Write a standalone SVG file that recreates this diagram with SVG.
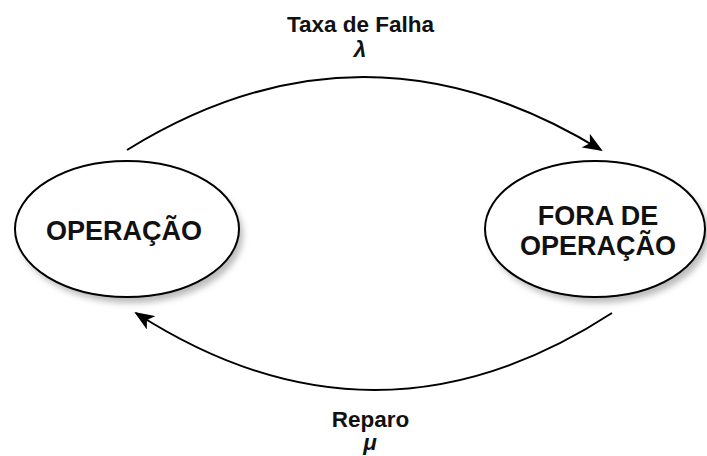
<svg xmlns="http://www.w3.org/2000/svg" width="707" height="456" viewBox="0 0 707 456">
<style>
.node{fill:#fff;stroke:#000;stroke-width:2}
.shadow{fill:#bbb;filter:url(#blur)}
.lbl{font-family:"Liberation Sans",Arial,sans-serif;font-weight:bold;text-anchor:middle;fill:#111}
.big{font-size:27px}
.small{font-size:22.5px}
.conn{fill:none;stroke:#000;stroke-width:2}
</style>
<defs>
<filter id="blur" x="-20%" y="-20%" width="140%" height="140%"><feGaussianBlur stdDeviation="3"/></filter>
<marker id="arrow" markerWidth="20" markerHeight="16" refX="18" refY="8" orient="auto" markerUnits="userSpaceOnUse">
<path d="M0,0 L20,8 L0,16 L5,8 Z" fill="#000"/>
</marker>
</defs>
<g id="node-operacao">
<ellipse class="shadow" cx="131" cy="235" rx="112" ry="68"/>
<ellipse class="node" cx="127" cy="229" rx="112" ry="68"/>
<text class="lbl big" x="124" y="240">OPERAÇÃO</text>
</g>
<g id="node-fora">
<ellipse class="shadow" cx="599" cy="235" rx="110" ry="68"/>
<ellipse class="node" cx="595" cy="229" rx="110" ry="68"/>
<text class="lbl big" x="598" y="225">FORA DE</text>
<text class="lbl big" x="598" y="255">OPERAÇÃO</text>
</g>
<g id="connectors">
<path class="conn" d="M127,150 Q363,4 601,150" marker-end="url(#arrow)"/>
<path class="conn" d="M612,313 Q375,467 136,313" marker-end="url(#arrow)"/>
</g>
<g id="labels">
<text class="lbl small" x="360.5" y="32">Taxa de Falha</text>
<text class="lbl small" x="360" y="57" font-style="italic">λ</text>
<text class="lbl small" x="370.5" y="427">Reparo</text>
<text class="lbl small" x="370" y="450" font-style="italic">μ</text>
</g>
</svg>
